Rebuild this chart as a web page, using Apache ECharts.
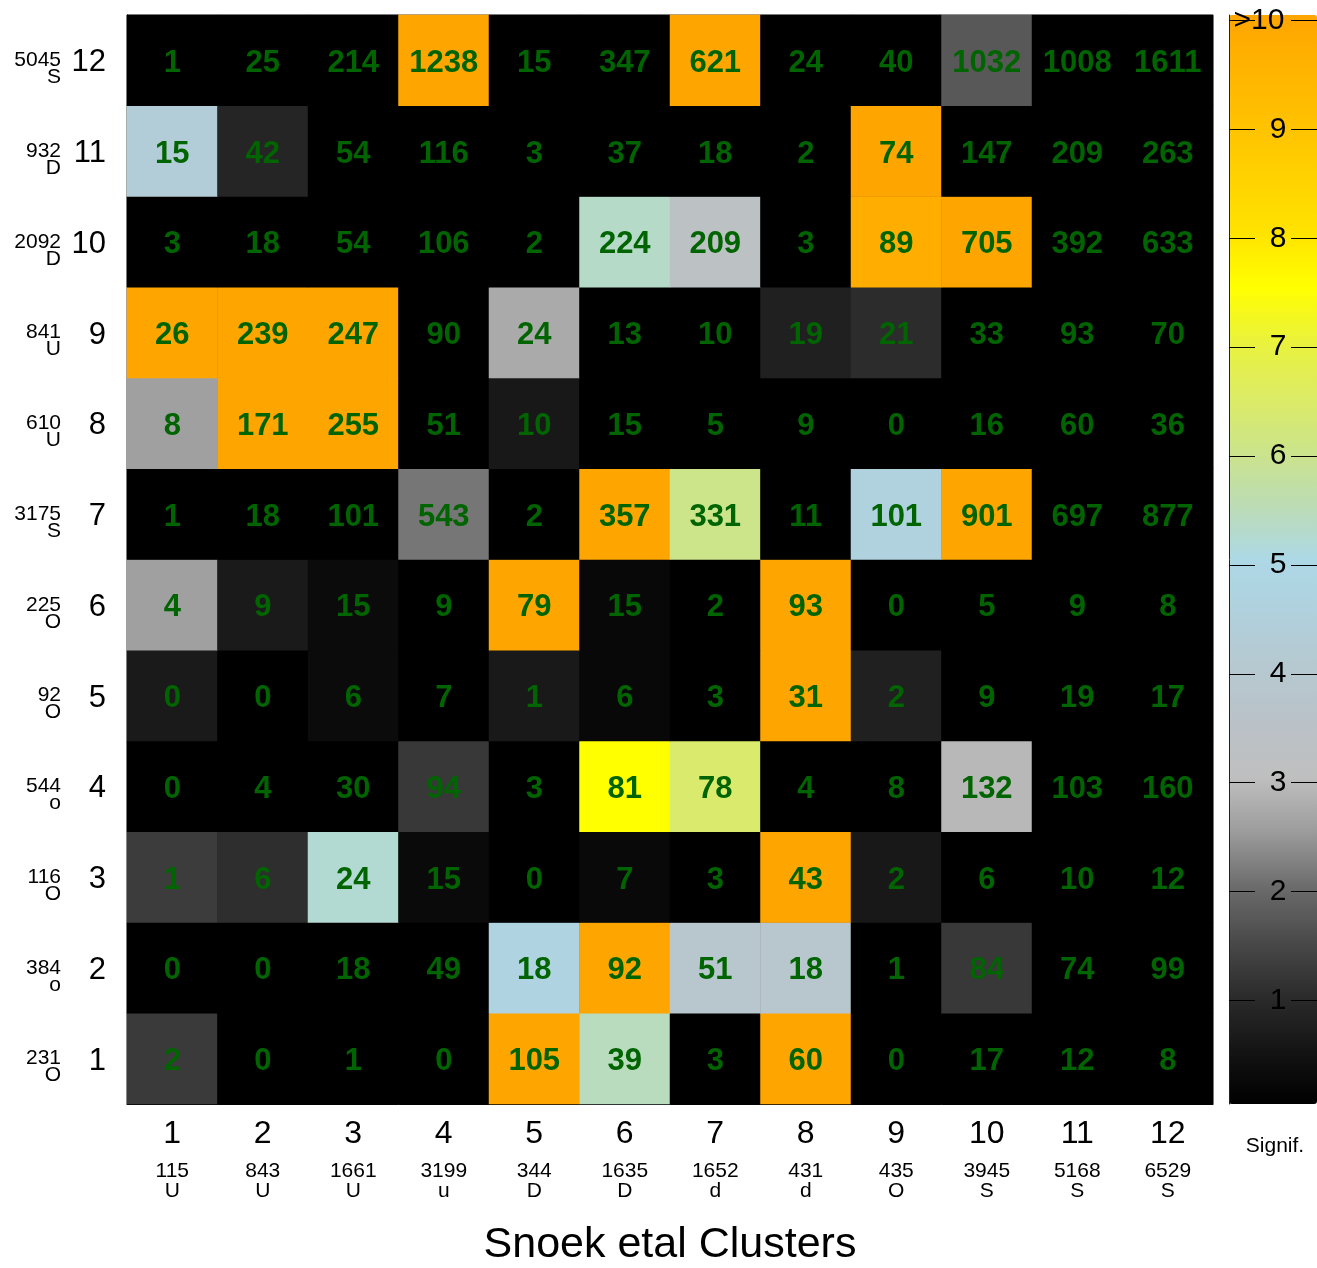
<!DOCTYPE html>
<html><head><meta charset="utf-8">
<script src="https://cdn.jsdelivr.net/npm/echarts@6/dist/echarts.min.js"></script>
<style>html,body{margin:0;padding:0;background:#fff}#c{width:1317px;height:1268px}</style>
</head><body><div id="c"></div>
<script>
// ---- data ----
const xCats = ['1','2','3','4','5','6','7','8','9','10','11','12'];
const yCats = ['1','2','3','4','5','6','7','8','9','10','11','12'];
const xSizes = ['115','843','1661','3199','344','1635','1652','431','435','3945','5168','6529'];
const xTypes = ['U','U','U','u','D','D','d','d','O','S','S','S'];
const ySizes = ['231','384','116','544','92','225','3175','610','841','2092','932','5045'];
const yTypes = ['O','o','O','o','O','O','S','U','U','D','D','S'];
const colorbarTicks = [1,2,3,4,5,6,7,8,9,10];

// counts per row (y = 1 .. 12), columns x = 1 .. 12
const countY1  = [2,0,1,0,105,39,3,60,0,17,12,8];
const countY2  = [0,0,18,49,18,92,51,18,1,84,74,99];
const countY3  = [1,6,24,15,0,7,3,43,2,6,10,12];
const countY4  = [0,4,30,94,3,81,78,4,8,132,103,160];
const countY5  = [0,0,6,7,1,6,3,31,2,9,19,17];
const countY6  = [4,9,15,9,79,15,2,93,0,5,9,8];
const countY7  = [1,18,101,543,2,357,331,11,101,901,697,877];
const countY8  = [8,171,255,51,10,15,5,9,0,16,60,36];
const countY9  = [26,239,247,90,24,13,10,19,21,33,93,70];
const countY10 = [3,18,54,106,2,224,209,3,89,705,392,633];
const countY11 = [15,42,54,116,3,37,18,2,74,147,209,263];
const countY12 = [1,25,214,1238,15,347,621,24,40,1032,1008,1611];

// significance per row (y = 1 .. 12), capped at 10
const sigY1  = [1.24,0,0,0,10,5.4,0,10,0,0,0,0];
const sigY2  = [0,0,0,0,4.7,10,3.8,3.8,0,1.2,0,0];
const sigY3  = [1.27,1.03,5.2,0.25,0,0.22,0,10,0.58,0,0,0];
const sigY4  = [0,0,0,1.2,0,7.5,6.4,0,0,2.9,0,0];
const sigY5  = [0.62,0,0.27,0,0.6,0.2,0,10,0.75,0,0,0];
const sigY6  = [2.55,0.62,0.27,0,10,0.2,0,10,0,0,0,0];
const sigY7  = [0,0,0,2.1,0,10,6.0,0,4.6,10,0,0];
const sigY8  = [2.55,10,10,0,0.58,0,0,0,0,0,0,0];
const sigY9  = [10,10,10,0,2.7,0,0,0.75,1.0,0,0,0];
const sigY10 = [0,0,0,0,0,5.3,3.3,0,9.7,10,0,0];
const sigY11 = [4.3,0.85,0,0,0,0,0,0,10,0,0,0];
const sigY12 = [0,0,0,10,0,0,10,0,0,1.7,0,0];

const countRows = [countY1,countY2,countY3,countY4,countY5,countY6,countY7,countY8,countY9,countY10,countY11,countY12];
const sigRows = [sigY1,sigY2,sigY3,sigY4,sigY5,sigY6,sigY7,sigY8,sigY9,sigY10,sigY11,sigY12];

// colour ramp (0 .. 10 in steps of 0.5)
const palette = ['#000000','#141414','#2c2c2c','#4a4a4a','#6c6c6c','#9c9c9c','#bfbfbf','#bac2c8','#b6c8d0','#b0d0dc','#add8e6',
  '#bcdcb4','#cce48a','#dcec64','#eaf23c','#ffff00','#ffe300','#ffd200','#ffc200','#ffb400','#ffa500'];

const FONT = 'Liberation Sans, Arial, sans-serif';
const data = [];
sigRows.forEach((row, yi) => row.forEach((s, xi) => data.push([xi, yi, s, countRows[yi][xi]])));

const chart = echarts.init(document.getElementById('c'), null, {renderer: 'canvas'});
chart.setOption({
  animation: false,
  textStyle: {fontFamily: FONT},
  grid: [
    {left: 127, top: 15, width: 1086, height: 1089, show: true, borderColor: '#444', borderWidth: 1,
     backgroundColor: '#000', containLabel: false, outerBoundsMode: 'none'},
    {left: 1229, top: 15, width: 88, height: 1089, containLabel: false, outerBoundsMode: 'none'}
  ],
  xAxis: [
    {type: 'category', data: xCats, gridIndex: 0,
     axisLine: {lineStyle: {color: '#000', width: 1}},
     axisTick: {alignWithLabel: true, length: 9, lineStyle: {color: '#000'}},
     axisLabel: {margin: 3, interval: 0,
       formatter: (v, i) => '{b|' + v + '}\n{s|' + xSizes[i] + '}\n{s|' + xTypes[i] + '}',
       rich: {
         b: {fontSize: 32, lineHeight: 54, color: '#000', fontFamily: FONT},
         s: {fontSize: 21, lineHeight: 20, color: '#000', fontFamily: FONT}
       }},
     name: 'Snoek etal Clusters', nameLocation: 'middle', nameGap: 120,
     nameTextStyle: {fontSize: 43, color: '#000', fontFamily: FONT}},
    {type: 'value', gridIndex: 1, show: false, min: 0, max: 1}
  ],
  yAxis: [
    {type: 'category', data: yCats, gridIndex: 0,
     axisLine: {lineStyle: {color: '#000'}},
     axisTick: {alignWithLabel: true, length: 10, lineStyle: {color: '#000'}},
     axisLabel: {margin: 21, interval: 0,
       formatter: v => '{b|' + v + '}',
       rich: {b: {fontSize: 31, color: '#000', fontFamily: FONT, lineHeight: 31, padding: [5, 0, 0, 0]}}}},
    {type: 'category', data: yCats, gridIndex: 0, position: 'left', offset: 0,
     axisLine: {show: false}, axisTick: {show: false},
     axisLabel: {margin: 66, fontSize: 21, lineHeight: 17, color: '#000', interval: 0, align: 'right',
       fontFamily: FONT,
       formatter: (v, i) => '\n' + ySizes[i] + '\n' + yTypes[i]}},
    {type: 'value', gridIndex: 1, position: 'left', min: 0.05, max: 10.05, z: 10,
     splitLine: {show: false},
     axisLine: {show: true, lineStyle: {color: '#222', width: 1}},
     axisTick: {show: true, inside: true, length: 26, customValues: colorbarTicks, lineStyle: {color: '#000'}},
     axisLabel: {inside: true, margin: 49, align: 'center', fontSize: 30, color: '#000', fontFamily: FONT,
       customValues: colorbarTicks,
       formatter: v => (Math.round(v) === 10 ? '{g|>10}' : String(Math.round(v))),
       rich: {g: {fontSize: 30, color: '#000', fontFamily: FONT, padding: [0, 38, 0, 0]}}}},
    {type: 'value', gridIndex: 1, position: 'right', min: 0.05, max: 10.05, z: 10,
     splitLine: {show: false}, axisLine: {show: false},
     axisTick: {show: true, inside: true, length: 26, customValues: colorbarTicks, lineStyle: {color: '#000'}},
     axisLabel: {show: false}}
  ],
  visualMap: {
    type: 'continuous', min: 0, max: 10, dimension: 2, seriesIndex: 0,
    inRange: {color: palette}, left: 1229, top: 15, itemWidth: 88, itemHeight: 1089,
    padding: 0, calculable: false, orient: 'vertical', hoverLink: false
  },
  title: [{text: 'Signif.', left: 1270, top: 1131, textAlign: 'center',
    textStyle: {fontSize: 21, fontWeight: 'normal', color: '#000', fontFamily: FONT}}],
  series: [{
    type: 'heatmap', data: data, xAxisIndex: 0, yAxisIndex: 0,
    label: {show: true, formatter: p => String(p.value[3]), fontSize: 31, fontWeight: 'bold',
      color: '#006400', fontFamily: FONT, offset: [0, 3]},
    itemStyle: {borderWidth: 0},
    emphasis: {disabled: true}
  }]
});
</script>
</body></html>
